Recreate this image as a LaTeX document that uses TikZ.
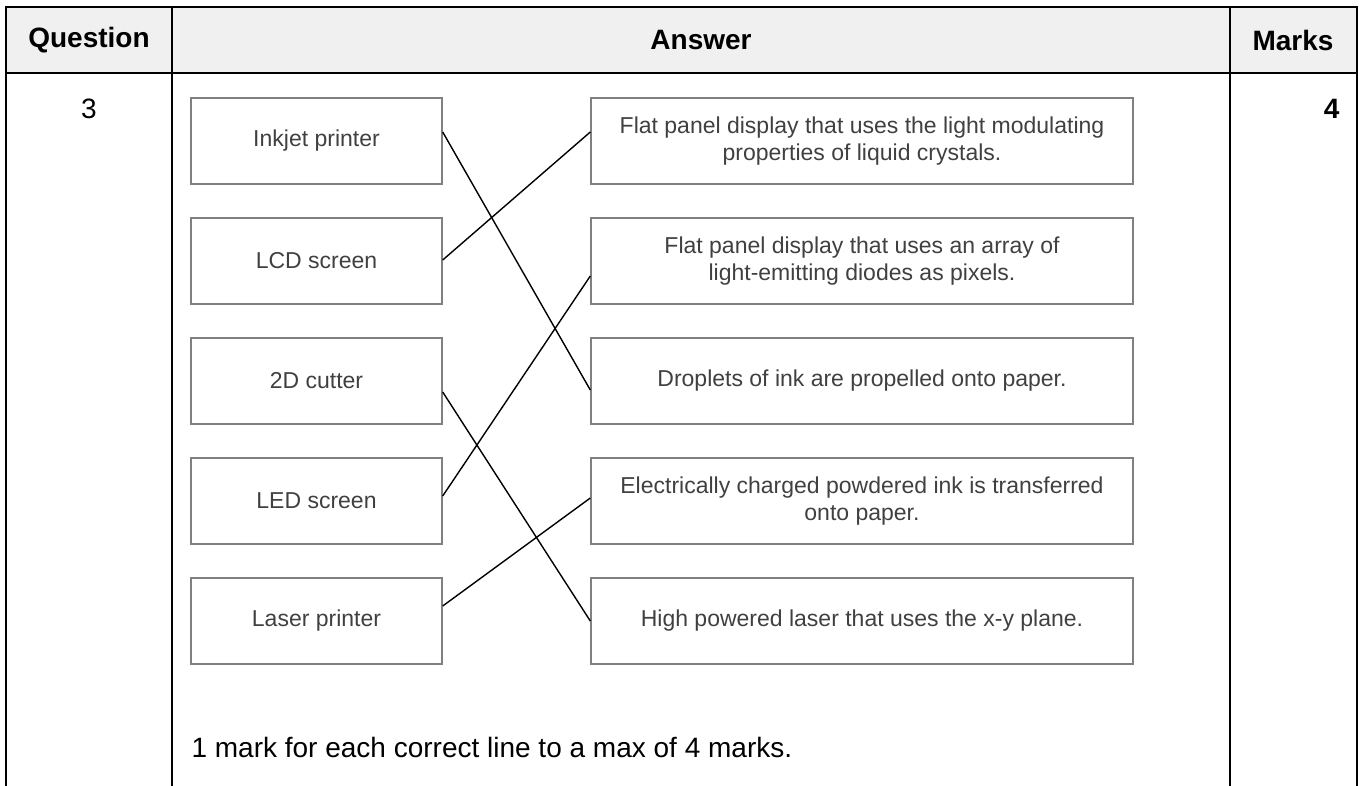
\documentclass[tikz,border=0pt]{standalone}
\usepackage{fontspec}
\setmainfont{Liberation Sans}
\definecolor{hdrgray}{HTML}{F0F0F0}
\begin{document}
\begin{tikzpicture}[x=1pt,y=-1pt,
  hdr/.style={font=\fontsize{28}{34}\selectfont\bfseries},
  plain/.style={font=\fontsize{28}{34}\selectfont},
  devbox/.style={draw=black!50, line width=1.4pt, minimum width=251pt, minimum height=86pt, inner sep=0pt, text=black!75, font=\fontsize{23}{27}\selectfont},
  usebox/.style={devbox, minimum width=542pt, align=center},
  tbl/.style={line width=2pt},
  match/.style={line width=1.4pt}]
\useasboundingbox (0,0) rectangle (1362,786);
\fill[hdrgray] (6,7) rectangle (1357,73);
\draw[tbl] (6,786) -- (6,7) -- (1357,7) -- (1357,786);
\draw[tbl] (6,73) -- (1357,73);
\draw[tbl] (172,7) -- (172,786);
\draw[tbl] (1230,7) -- (1230,786);
\node[hdr] (hq) at (89,40) {Question};
\node[hdr] (ha) at (701,40) {Answer};
\node[hdr] (hm) at (1293,40) {Marks};
\node[plain, anchor=base] (qno) at (89,119) {3};
\node[hdr, anchor=base east] (mno) at (1343,119) {4};
\node[devbox] (dev1) at (316.5,141) {Inkjet printer};
\node[devbox] (dev2) at (316.5,261) {LCD screen};
\node[devbox] (dev3) at (316.5,381) {2D cutter};
\node[devbox] (dev4) at (316.5,501) {LED screen};
\node[devbox] (dev5) at (316.5,621) {Laser printer};
\node[usebox] (use1) at (862,141) {Flat panel display that uses the light modulating\\properties of liquid crystals.};
\node[usebox] (use2) at (862,261) {Flat panel display that uses an array of\\light-emitting diodes as pixels.};
\node[usebox] (use3) at (862,381) {Droplets of ink are propelled onto paper.};
\node[usebox] (use4) at (862,501) {Electrically charged powdered ink is transferred\\onto paper.};
\node[usebox] (use5) at (862,621) {High powered laser that uses the x-y plane.};
\draw[match] ([yshift=9pt]dev1.east) -- ([yshift=-9pt]use3.west);
\draw[match] ([yshift=1pt]dev2.east) -- ([yshift=9pt]use1.west);
\draw[match] ([yshift=-11pt]dev3.east) -- (use5.west);
\draw[match] ([yshift=5pt]dev4.east) -- ([yshift=-15pt]use2.west);
\draw[match] ([yshift=15pt]dev5.east) -- ([yshift=3pt]use4.west);
\node[plain, anchor=base west] (note) at (188,757) {1 mark for each correct line to a max of 4 marks.};
\end{tikzpicture}
\end{document}
